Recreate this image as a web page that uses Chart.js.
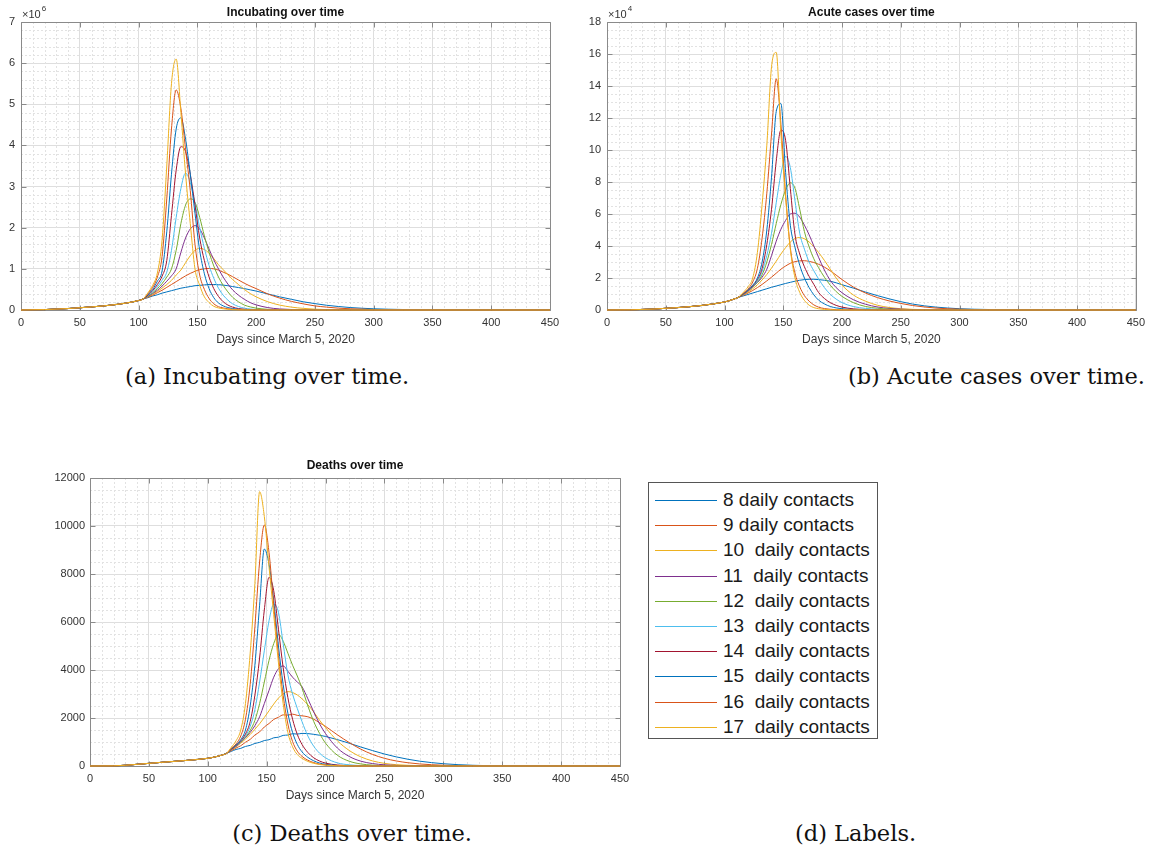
<!DOCTYPE html>
<html><head><meta charset="utf-8">
<script src="https://cdn.jsdelivr.net/npm/chart.js@4.4.1/dist/chart.umd.min.js"></script>
<style>
html,body{margin:0;padding:0;background:#fff;}
body{width:1151px;height:852px;position:relative;overflow:hidden;}
canvas{position:absolute;}
.cap{position:absolute;font-family:'DejaVu Serif',serif;font-size:22.5px;line-height:1;white-space:pre;color:#111;}
#legend{position:absolute;left:648px;top:482px;width:230px;height:257px;border:1px solid #555;background:#fff;box-sizing:border-box;}
.row{position:absolute;left:0;height:20px;width:228px;}
.row .ln{position:absolute;left:6px;width:62px;height:1px;top:10px;}
.row .tx{position:absolute;left:74px;top:0;font-family:'Liberation Sans',Arial,sans-serif;font-size:19px;line-height:20px;white-space:pre;color:#1a1a1a;}
</style></head><body>
<div id="legend"></div>
<div class="cap" style="left:125px;top:365px;">(a) Incubating over time.</div>
<div class="cap" style="right:6px;top:365px;text-align:right;">(b) Acute cases over time.</div>
<div class="cap" style="right:679px;top:822px;text-align:right;">(c) Deaths over time.</div>
<div class="cap" style="left:795px;top:822px;">(d) Labels.</div>
<script>
// ---- data ----
const days = [0,20,40,60,80,100,104,108,112,116,120,124,128,132,136,140,144,148,152,156,160,164,168,172,176,180,185,190,195,200,210,220,230,240,250,260,270,280,300,325,350,400,450];

// Incubating (x10^6)
const inc8  = [0,0.01,0.035,0.075,0.13,0.23,0.27, 0.30,0.34,0.37,0.41,0.44,0.47,0.50,0.53,0.55,0.57,0.59,0.60,0.61,0.62,0.62,0.615,0.605,0.59,0.57, 0.545,0.52,0.49,0.46, 0.39,0.32,0.26,0.20,0.155,0.115,0.085,0.06, 0.03,0.012,0.005,0.001,0];
const inc9  = [0,0.01,0.035,0.075,0.13,0.23,0.27, 0.31,0.36,0.42,0.48,0.55,0.62,0.69,0.76,0.83,0.89,0.94,0.98,1.00,1.01,1.00,0.97,0.92,0.87,0.81, 0.73,0.65,0.58,0.52, 0.39,0.29,0.21,0.15,0.10,0.07,0.045,0.03, 0.012,0.004,0.001,0,0];
const inc10 = [0,0.01,0.035,0.075,0.13,0.23,0.27, 0.32,0.38,0.45,0.53,0.62,0.72,0.85,0.97,1.15,1.32,1.45,1.50,1.47,1.38,1.25,1.10,0.98,0.86,0.74, 0.62,0.50,0.40,0.32, 0.20,0.12,0.07,0.04,0.02,0.01,0.005,0.002, 0,0,0,0,0];
const inc11 = [0,0.01,0.035,0.075,0.13,0.23,0.27, 0.33,0.40,0.48,0.58,0.70,0.83,1.00,1.40,1.75,1.97,2.05,1.97,1.75,1.48,1.22,1.00,0.80,0.63,0.49, 0.36,0.26,0.18,0.125, 0.058,0.026,0.012,0.005,0.002,0,0,0, 0,0,0,0,0];
const inc12 = [0,0.01,0.035,0.075,0.13,0.23,0.27, 0.34,0.42,0.52,0.64,0.80,1.00,1.45,2.10,2.55,2.70,2.62,2.25,1.80,1.40,1.07,0.80,0.60,0.44,0.31, 0.20,0.12,0.075,0.045, 0.016,0.005,0.002,0,0,0,0,0, 0,0,0,0,0];
const inc13 = [0,0.01,0.035,0.075,0.13,0.23,0.27, 0.35,0.44,0.56,0.72,0.92,1.45,2.25,2.95,3.33,3.10,2.60,2.00,1.50,1.08,0.77,0.53,0.36,0.24,0.15, 0.085,0.045,0.024,0.012, 0.004,0,0,0,0,0,0,0, 0,0,0,0,0];
const inc14 = [0,0.01,0.035,0.075,0.13,0.23,0.27, 0.36,0.47,0.62,0.82,1.20,2.30,3.40,3.97,3.85,3.30,2.55,1.75,1.20,0.80,0.52,0.33,0.20,0.12,0.07, 0.035,0.018,0.009,0.004, 0,0,0,0,0,0,0,0, 0,0,0,0,0];
const inc15 = [0,0.01,0.035,0.075,0.13,0.23,0.27, 0.38,0.50,0.70,0.95,1.90,3.30,4.40,4.67,4.15,3.30,2.35,1.45,0.88,0.52,0.30,0.17,0.10,0.06,0.035, 0.018,0.009,0.004,0.002, 0,0,0,0,0,0,0,0, 0,0,0,0,0];
const inc16 = [0,0.01,0.035,0.075,0.13,0.23,0.27, 0.40,0.55,0.80,1.30,2.70,4.40,5.35,4.90,3.90,2.90,1.60,0.85,0.50,0.28,0.15,0.08,0.05,0.03,0.015, 0.008,0.004,0.002,0.001, 0,0,0,0,0,0,0,0, 0,0,0,0,0];
const inc17 = [0,0.01,0.035,0.075,0.13,0.23,0.27, 0.42,0.60,0.90,1.70,3.50,5.50,6.10,4.80,3.30,2.10,1.00,0.60,0.32,0.18,0.09,0.05,0.03,0.015,0.008, 0.004,0.002,0.001,0, 0,0,0,0,0,0,0,0, 0,0,0,0,0];

// Acute cases (x10^4)
const acu8  = [0,0.01,0.06,0.15,0.28,0.50,0.58,0.68,0.80, 0.88,0.97,1.06,1.15,1.24,1.33,1.42,1.50,1.58,1.66,1.73,1.80,1.86,1.90,1.92,1.92,1.90, 1.86,1.80,1.70,1.58, 1.36,1.12,0.90,0.70,0.52,0.37,0.26,0.18, 0.08,0.03,0.01,0.001,0];
const acu9  = [0,0.01,0.06,0.15,0.28,0.50,0.58,0.68,0.80, 0.92,1.06,1.22,1.40,1.60,1.82,2.05,2.30,2.55,2.75,2.92,3.02,3.07,3.08,3.04,2.97,2.86, 2.68,2.45,2.18,1.90, 1.42,1.06,0.78,0.57,0.41,0.28,0.19,0.12, 0.05,0.015,0.004,0,0];
const acu10 = [0,0.01,0.06,0.15,0.28,0.50,0.58,0.68,0.80, 0.95,1.12,1.33,1.58,1.88,2.22,2.62,3.05,3.50,3.90,4.25,4.47,4.53,4.45,4.25,3.95,3.60, 3.10,2.55,2.00,1.55, 0.92,0.55,0.30,0.16,0.08,0.04,0.02,0.01, 0.003,0,0,0,0];
const acu11 = [0,0.01,0.06,0.15,0.28,0.50,0.58,0.68,0.80, 0.97,1.18,1.43,1.72,2.05,2.55,3.40,4.30,5.05,5.60,6.00,6.05,5.80,5.30,4.70,4.00,3.30, 2.50,1.85,1.40,1.08, 0.63,0.36,0.19,0.10,0.05,0.025,0.012,0.006, 0.001,0,0,0,0];
const acu12 = [0,0.01,0.06,0.15,0.28,0.50,0.58,0.68,0.80, 0.98,1.20,1.45,1.75,2.20,3.00,4.10,5.40,6.60,7.50,7.95,7.60,6.30,4.90,3.95,3.20,2.65, 2.05,1.55,1.15,0.85, 0.45,0.22,0.11,0.055,0.027,0.013,0.006,0.003, 0,0,0,0,0];
const acu13 = [0,0.01,0.06,0.15,0.28,0.50,0.58,0.68,0.80, 0.99,1.20,1.45,1.80,2.40,3.40,4.80,6.70,8.50,9.60,8.90,6.80,4.80,3.80,3.00,2.45,1.95, 1.40,0.98,0.68,0.46, 0.21,0.10,0.045,0.02,0.01,0.005,0,0, 0,0,0,0,0];
const acu14 = [0,0.01,0.06,0.15,0.28,0.50,0.58,0.68,0.80, 1.00,1.22,1.50,1.90,2.60,4.10,6.30,9.30,11.25,10.60,7.60,4.70,3.50,2.70,2.10,1.60,1.10, 0.72,0.46,0.29,0.18, 0.07,0.03,0.012,0.005,0,0,0,0, 0,0,0,0,0];
const acu15 = [0,0.01,0.06,0.15,0.28,0.50,0.58,0.68,0.80, 1.02,1.25,1.55,2.00,3.00,5.00,8.30,12.40,12.90,8.60,5.30,3.90,2.80,2.00,1.40,0.95,0.62, 0.38,0.22,0.13,0.08, 0.03,0.01,0.004,0,0,0,0,0, 0,0,0,0,0];
const acu16 = [0,0.01,0.06,0.15,0.28,0.50,0.58,0.68,0.80, 1.05,1.30,1.75,2.60,4.50,7.30,11.00,14.45,11.60,7.20,3.90,2.30,1.45,0.90,0.55,0.32,0.18, 0.09,0.045,0.02,0.01, 0.003,0,0,0,0,0,0,0, 0,0,0,0,0];
const acu17 = [0,0.01,0.06,0.15,0.28,0.50,0.58,0.68,0.80, 1.10,1.45,2.00,3.60,6.60,10.30,15.20,16.10,11.00,7.00,3.80,2.00,1.10,0.60,0.30,0.15,0.08, 0.035,0.015,0.006,0.003, 0,0,0,0,0,0,0,0, 0,0,0,0,0];

// Deaths
const dth8  = [0,5,70,150,225,320,355,400,455,530, 610,690,735,815,860,940,985,1060,1095,1175,1200,1275,1290,1345,1330,1360, 1350,1320,1280,1230, 1100,950,790,640,500,380,280,200, 95,30,8,0,0];
const dth9  = [0,5,70,150,225,320,355,400,455,530, 640,750,845,990,1110,1290,1420,1625,1770,1940,2030,2130,2120,2160,2110,2090, 2050,1950,1800,1650, 1300,980,700,480,320,210,135,85, 32,8,2,0,0];
const dth10 = [0,5,70,150,225,320,355,400,455,530, 670,800,950,1120,1310,1530,1760,2020,2300,2580,2830,3010,3100,3060,2960,2800, 2550,2250,1900,1600, 1050,650,380,210,110,55,28,14, 3,0,0,0,0];
const dth11 = [0,5,70,150,225,320,355,400,455,530, 680,820,990,1180,1400,1680,2050,2600,3150,3700,4050,4170,3950,3700,3500,3300, 2800,2250,1750,1350, 750,400,200,100,50,25,12,6, 1,0,0,0,0];
const dth12 = [0,5,70,150,225,320,355,400,455,530, 690,835,1010,1210,1480,1900,2600,3500,4400,5100,5490,5200,4700,4200,3750,3250, 2500,1850,1350,950, 450,200,85,35,14,5,0,0, 0,0,0,0,0];
const dth13 = [0,5,70,150,225,320,355,400,455,530, 700,840,1010,1250,1650,2350,3500,4800,6050,6740,6400,5100,3800,3000,2400,1850, 1250,820,530,340, 130,50,18,6,0,0,0,0, 0,0,0,0,0];
const dth14 = [0,5,70,150,225,320,355,400,455,530, 700,855,1050,1330,1850,2950,4500,6500,7860,7300,5700,4100,2850,1950,1320,900, 560,340,205,120, 42,14,5,0,0,0,0,0, 0,0,0,0,0];
const dth15 = [0,5,70,150,225,320,355,400,455,530, 720,880,1100,1500,2500,4200,6700,9040,8400,6900,5000,3400,2200,1400,900,590, 360,215,125,72, 24,8,2,0,0,0,0,0, 0,0,0,0,0];
const dth16 = [0,5,70,150,225,320,355,400,455,530, 740,920,1250,1950,3400,5800,8500,10040,8900,6700,4600,2950,1750,1020,620,400, 240,140,80,45, 15,5,0,0,0,0,0,0, 0,0,0,0,0];
const dth17 = [0,5,70,150,225,320,355,400,455,530, 780,1050,1500,2600,4700,7600,11430,10400,8300,6300,4300,2600,1400,800,480,320, 190,110,60,32, 10,3,0,0,0,0,0,0, 0,0,0,0,0];

const legendLabels = ['8 daily contacts','9 daily contacts','10  daily contacts','11  daily contacts','12  daily contacts','13  daily contacts','14  daily contacts','15  daily contacts','16  daily contacts','17  daily contacts'];
const xLabel = 'Days since March 5, 2020';

// ---- styles ----
const lineColors = ['#0072BD','#D95319','#EDB120','#7E2F8E','#77AC30','#4DBEEE','#A2142F','#0072BD','#D95319','#EDB120'];
const FONT = "'Liberation Sans', Arial, Helvetica, sans-serif";
const TXT = '#333333';

const axesPlugin = {
  id: 'matlabAxes',
  beforeDatasetsDraw(chart, args, o) {
    const ctx = chart.ctx, a = chart.chartArea, x = chart.scales.x, y = chart.scales.y;
    const al = v => Math.round(v) + 0.5;
    ctx.save();
    ctx.lineWidth = 1;
    ctx.strokeStyle = '#e2e2e2';
    ctx.setLineDash([2, 2]);
    ctx.beginPath();
    for (let k = 1; k * o.xMinor < x.max - 1e-9; k++) {
      const v = k * o.xMinor;
      if (Math.abs(v / o.xMajor - Math.round(v / o.xMajor)) < 1e-6) continue;
      const p = al(x.getPixelForValue(v));
      ctx.moveTo(p, a.top); ctx.lineTo(p, a.bottom);
    }
    for (let k = 1; k * o.yMinor < y.max - 1e-9; k++) {
      const v = k * o.yMinor;
      if (Math.abs(v / o.yMajor - Math.round(v / o.yMajor)) < 1e-6) continue;
      const p = al(y.getPixelForValue(v));
      ctx.moveTo(a.left, p); ctx.lineTo(a.right, p);
    }
    ctx.stroke();
    ctx.setLineDash([]);
    const L = al(a.left), R = al(a.right), T = al(a.top), B = al(a.bottom);
    ctx.strokeStyle = '#8a8a8a';
    ctx.beginPath();
    ctx.moveTo(L, T); ctx.lineTo(R, T); ctx.lineTo(R, B); ctx.lineTo(L, B); ctx.closePath();
    x.ticks.forEach(t => {
      const p = al(x.getPixelForValue(t.value));
      ctx.moveTo(p, B); ctx.lineTo(p, B - 5);
      ctx.moveTo(p, T); ctx.lineTo(p, T + 5);
    });
    y.ticks.forEach(t => {
      const p = al(y.getPixelForValue(t.value));
      ctx.moveTo(L, p); ctx.lineTo(L + 5, p);
      ctx.moveTo(R, p); ctx.lineTo(R - 5, p);
    });
    ctx.stroke();
    ctx.restore();
  },
  afterDraw(chart, args, o) {
    const ctx = chart.ctx, a = chart.chartArea;
    const cx = (a.left + a.right) / 2;
    ctx.save();
    ctx.fillStyle = '#111';
    ctx.textAlign = 'center'; ctx.textBaseline = 'middle';
    ctx.font = 'bold 12px ' + FONT;
    ctx.fillText(o.title, cx, o.titleY);
    ctx.fillStyle = TXT;
    ctx.font = '12px ' + FONT;
    ctx.fillText(xLabel, cx, a.bottom + 30);
    if (o.exp) {
      ctx.textAlign = 'left';
      ctx.font = '11px ' + FONT;
      const base = '\u00d710';
      ctx.fillText(base, a.left + 1, a.top - 7);
      const w = ctx.measureText(base).width;
      ctx.font = '8px ' + FONT;
      ctx.fillText(o.exp, a.left + 2 + w, a.top - 13);
    }
    ctx.restore();
  }
};

function pts(vals) { return days.map((d, i) => ({ x: d, y: vals[i] })); }

function buildChart(c) {
  const cv = document.createElement('canvas');
  cv.width = c.w; cv.height = c.h;
  cv.style.left = c.left + 'px'; cv.style.top = c.top + 'px';
  cv.style.width = c.w + 'px'; cv.style.height = c.h + 'px';
  document.body.appendChild(cv);
  new Chart(cv, {
    type: 'line',
    data: {
      datasets: c.series.map((s, i) => ({
        label: legendLabels[i], data: pts(s), borderColor: lineColors[i],
        borderWidth: 1, pointRadius: 0, fill: false,
        cubicInterpolationMode: 'monotone', order: 10 - i, clip: 1
      }))
    },
    options: {
      responsive: false, animation: false, devicePixelRatio: 1,
      events: [],
      layout: { autoPadding: false, padding: { left: 0, top: c.padTop, right: c.padRight, bottom: 0 } },
      plugins: {
        legend: { display: false }, tooltip: { enabled: false }, title: { display: false },
        matlabAxes: { title: c.title, titleY: c.titleY, exp: c.exp, xMinor: 10, xMajor: 50, yMinor: c.yMinor, yMajor: c.yStep }
      },
      scales: {
        x: {
          type: 'linear', min: 0, max: 450,
          ticks: { stepSize: 50, autoSkip: false, maxRotation: 0, padding: 6, color: TXT, font: { family: FONT, size: 11 }, callback: v => String(v) },
          grid: { color: '#dedede', lineWidth: 1, drawTicks: false },
          border: { display: false },
          afterFit: s => { s.height = c.xH; }
        },
        y: {
          type: 'linear', min: 0, max: c.yMax,
          ticks: { stepSize: c.yStep, autoSkip: false, padding: c.yPad, color: TXT, font: { family: FONT, size: 11 }, callback: v => String(v) },
          grid: { color: '#dedede', lineWidth: 1, drawTicks: false },
          border: { display: false },
          afterFit: s => { s.width = c.yW; }
        }
      }
    },
    plugins: [axesPlugin]
  });
}

buildChart({ left: 0, top: 0, w: 575, h: 350, padTop: 22, padRight: 25, yW: 21, xH: 40, yPad: 6,
  yMax: 7, yStep: 1, yMinor: 0.2, title: 'Incubating over time', titleY: 12.5, exp: '6',
  series: [inc8, inc9, inc10, inc11, inc12, inc13, inc14, inc15, inc16, inc17] });

buildChart({ left: 575, top: 0, w: 576, h: 350, padTop: 22, padRight: 14, yW: 32, xH: 40, yPad: 6,
  yMax: 18, yStep: 2, yMinor: 0.5, title: 'Acute cases over time', titleY: 12.5, exp: '4',
  series: [acu8, acu9, acu10, acu11, acu12, acu13, acu14, acu15, acu16, acu17] });

buildChart({ left: 0, top: 450, w: 640, h: 355, padTop: 28, padRight: 20, yW: 90, xH: 39, yPad: 5,
  yMax: 12000, yStep: 2000, yMinor: 500, title: 'Deaths over time', titleY: 16, exp: null,
  series: [dth8, dth9, dth10, dth11, dth12, dth13, dth14, dth15, dth16, dth17] });

// legend (d)
const lg = document.getElementById('legend');
legendLabels.forEach((lab, i) => {
  const r = document.createElement('div');
  r.className = 'row';
  r.style.top = Math.round(500 + 25.2 * i - 10 - 483) + 'px';
  const ln = document.createElement('div');
  ln.className = 'ln'; ln.style.background = lineColors[i];
  const tx = document.createElement('div');
  tx.className = 'tx'; tx.textContent = lab;
  r.appendChild(ln); r.appendChild(tx);
  lg.appendChild(r);
});
</script>
</body></html>
